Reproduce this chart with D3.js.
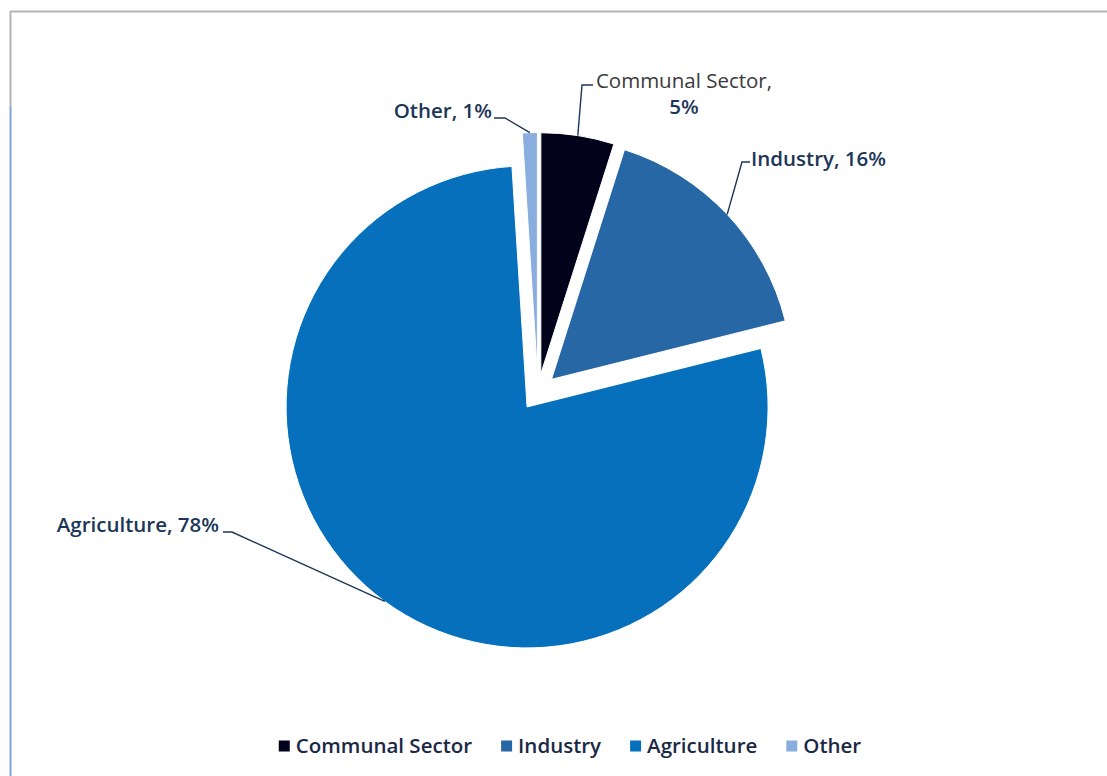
<!DOCTYPE html>
<html>
<head>
<meta charset="utf-8">
<script src="https://cdnjs.cloudflare.com/ajax/libs/d3/7.8.5/d3.min.js"></script>
<style>
  html, body { margin: 0; padding: 0; background: #fff; }
  svg text { font-family: "Open Sans", "Noto Sans", sans-serif; }
</style>
</head>
<body>
<div id="chart"></div>
<script>
// data
var categories = ["Communal Sector", "Industry", "Agriculture", "Other"];
var shares = [4.9, 16.2, 77.9, 1.0];
var colors = ["#02021a", "#2867a6", "#0670bc", "#8aade0"];

// layout
var width = 1107, height = 776;
var cx = 538, cy = 392, radius = 241, explode = 18.5;
var labelColor = "#1b3658";
var labelSize = "20.5px";

// where Excel put each data label (text anchor point + elbow point of leader)
var labelSpots = [
    {x: 684, y: 88, anchor: "middle", elbow: [582, 85], start: [593, 85]},
    {x: 751, y: 166, anchor: "start", elbow: [742, 162], start: [750, 162]},
    {x: 219, y: 532, anchor: "end", elbow: [232, 532], start: [223, 532]},
    {x: 492, y: 118, anchor: "end", elbow: [505, 118], start: [494, 118]}
];

var svg = d3.select("#chart")
    .append("svg")
    .attr("width", width)
    .attr("height", height);

// frame lines
svg.append("line")
    .attr("x1", 10).attr("y1", 11.5).attr("x2", width).attr("y2", 11.5)
    .attr("stroke", "#b4b4b4").attr("stroke-width", 2);
svg.append("line")
    .attr("x1", 10.5).attr("y1", 11).attr("x2", 10.5).attr("y2", 107)
    .attr("stroke", "#b4b4b4").attr("stroke-width", 2);
svg.append("line")
    .attr("x1", 10.5).attr("y1", 107).attr("x2", 10.5).attr("y2", height)
    .attr("stroke", "#7fa4dc").attr("stroke-width", 2);

var pie = d3.pie().sort(null).value(function (d) { return d; });
var arcs = pie(shares);

var arc = d3.arc().innerRadius(0).outerRadius(radius);

function offsetOf(d) {
    var mid = (d.startAngle + d.endAngle) / 2;
    return [explode * Math.sin(mid), -explode * Math.cos(mid)];
}

var pieGroup = svg.append("g")
    .attr("transform", "translate(" + cx + "," + cy + ")");

pieGroup.selectAll(".slice")
    .data(arcs)
    .enter()
    .append("path")
    .attr("class", "slice")
    .attr("d", arc)
    .attr("transform", function (d) {
        var o = offsetOf(d);
        return "translate(" + o[0] + "," + o[1] + ")";
    })
    .attr("fill", function (d, i) { return colors[i]; })
    .attr("stroke", "#fff")
    .attr("stroke-width", 1);

// leader lines: label -> elbow -> outer edge of the slice at its mid angle
arcs.forEach(function (d, i) {
    var o = offsetOf(d);
    var mid = (d.startAngle + d.endAngle) / 2;
    var ex = cx + o[0] + radius * Math.sin(mid);
    var ey = cy + o[1] - radius * Math.cos(mid);
    var s = labelSpots[i];
    svg.append("path")
        .attr("d", "M" + s.start[0] + "," + s.start[1] +
                   "L" + s.elbow[0] + "," + s.elbow[1] +
                   "L" + ex + "," + ey)
        .attr("fill", "none")
        .attr("stroke", labelColor)
        .attr("stroke-width", 1.4);
});

// data labels
arcs.forEach(function (d, i) {
    var s = labelSpots[i];
    var pct = Math.round(d.data) + "%";
    if (i === 0) {
        svg.append("text")
            .attr("x", s.x).attr("y", s.y)
            .attr("text-anchor", "middle")
            .style("font-size", labelSize)
            .style("fill", "#3a3a3a")
            .text(categories[i] + ",");
        svg.append("text")
            .attr("x", s.x).attr("y", s.y + 26)
            .attr("text-anchor", "middle")
            .style("font-size", labelSize)
            .style("font-weight", "600")
            .style("fill", labelColor)
            .text(pct);
    } else {
        svg.append("text")
            .attr("x", s.x).attr("y", s.y)
            .attr("text-anchor", s.anchor)
            .style("font-size", labelSize)
            .style("font-weight", "600")
            .style("fill", labelColor)
            .text(categories[i] + ", " + pct);
    }
});

// legend
var legend = svg.append("g").attr("class", "legend");
var legendY = 746, boxSize = 11, boxGap = 6, itemGap = 29;
var lx = 0;
categories.forEach(function (c, i) {
    var item = legend.append("g").attr("transform", "translate(" + lx + ",0)");
    item.append("rect")
        .attr("x", 0).attr("y", legendY - boxSize / 2)
        .attr("width", boxSize).attr("height", boxSize)
        .attr("fill", colors[i]);
    var t = item.append("text")
        .attr("x", boxSize + boxGap).attr("y", legendY + 7)
        .style("font-size", "20.5px")
        .style("font-weight", "600")
        .style("fill", "#1a2846")
        .text(c);
    lx += boxSize + boxGap + t.node().getComputedTextLength() + itemGap;
});
var legendW = lx - itemGap;
legend.attr("transform", "translate(" + (570 - legendW / 2) + ",0)");
</script>
</body>
</html>
